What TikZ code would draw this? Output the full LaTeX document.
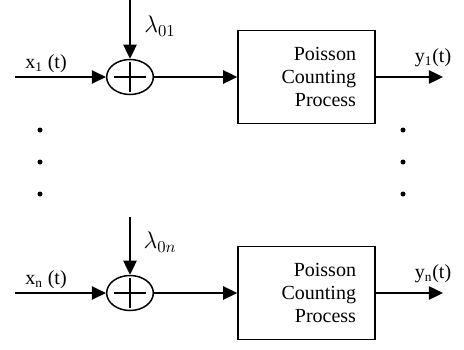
\documentclass[tikz,border=0pt]{standalone}
\usepackage{amsmath}
\usepackage{fontspec}
\setmainfont{Liberation Serif}
\usetikzlibrary{shapes.geometric,arrows.meta}

\tikzset{
  sig/.style={line width=1.1pt,-{Triangle[length=8.5pt,width=8pt]}},
  summer/.style={draw,ellipse,line width=0.9pt,inner sep=0pt,minimum width=28pt,minimum height=21pt},
  pcp/.style={draw,line width=0.9pt,align=right,text width=59.4pt,inner xsep=11.4pt,minimum height=56pt,font=\fontsize{12}{13.8}\selectfont},
  lbl/.style={inner sep=0pt,font=\fontsize{12}{14}\selectfont},
  rate/.style={inner sep=0pt,font=\fontsize{14.5}{17}\selectfont}
}

\begin{document}
\begin{tikzpicture}[x=0.6pt,y=-0.6pt]
\useasboundingbox (0,0) rectangle (464,349);
% channel 1
\coordinate (in1) at (15,77);
\coordinate (lam1) at (130,0);
\coordinate (out1) at (443,77);
\node [summer] (sum1) at (130,77) {};
\draw [line width=0.9pt] ([xshift=-16*0.6pt]sum1.center) -- ([xshift=16*0.6pt]sum1.center);
\draw [line width=0.9pt] ([yshift=15*0.6pt]sum1.center) -- ([yshift=-15*0.6pt]sum1.center);
\node [pcp] (pcp1) at (306.5,77) {Poisson\\Counting\\Process};
\draw [sig] (in1) -- (sum1);
\draw [sig] (lam1) -- (sum1);
\draw [sig] (sum1) -- (pcp1);
\draw [sig] (pcp1) -- (out1);
\node [lbl] (x1) at (46,64) {x\textsubscript{1} (t)};
\node [rate] (r1) at (160,26) {$\lambda_{01}$};
\node [lbl] (y1) at (433,58) {y\textsubscript{1}(t)};
% channel n
\coordinate (inn) at (15,293);
\coordinate (lamn) at (130,217);
\coordinate (outn) at (443,293);
\node [summer] (sumn) at (130,293) {};
\draw [line width=0.9pt] ([xshift=-16*0.6pt]sumn.center) -- ([xshift=16*0.6pt]sumn.center);
\draw [line width=0.9pt] ([yshift=15*0.6pt]sumn.center) -- ([yshift=-15*0.6pt]sumn.center);
\node [pcp] (pcpn) at (306.5,293) {Poisson\\Counting\\Process};
\draw [sig] (inn) -- (sumn);
\draw [sig] (lamn) -- (sumn);
\draw [sig] (sumn) -- (pcpn);
\draw [sig] (pcpn) -- (outn);
\node [lbl] (xn) at (46,280) {x\textsubscript{n} (t)};
\node [rate] (rn) at (160,242) {$\lambda_{0n}$};
\node [lbl] (yn) at (433,274) {y\textsubscript{n}(t)};
% dots
\foreach \yy in {130,162,194} {
  \fill (40,\yy) circle (2.5);
  \fill (403,\yy) circle (2.5);
}
\end{tikzpicture}
\end{document}
